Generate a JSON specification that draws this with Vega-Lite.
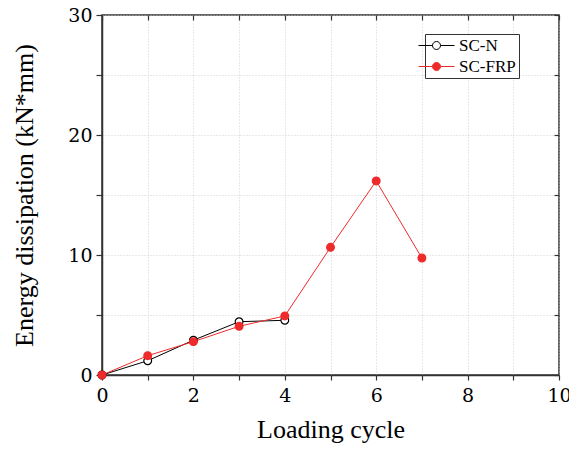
{
  "$schema": "https://vega.github.io/schema/vega-lite/v6.json",
  "autosize": {"type": "none"},
  "width": 457,
  "height": 360,
  "padding": {"left": 102, "top": 15, "right": 10, "bottom": 78},
  "background": "white",
  "data": {"values": [
    {"cycle": 0, "energy": 0, "series": "SC-N"},
    {"cycle": 1, "energy": 1.19, "series": "SC-N"},
    {"cycle": 2, "energy": 2.9, "series": "SC-N"},
    {"cycle": 3, "energy": 4.44, "series": "SC-N"},
    {"cycle": 4, "energy": 4.56, "series": "SC-N"},
    {"cycle": 0, "energy": 0, "series": "SC-FRP"},
    {"cycle": 1, "energy": 1.61, "series": "SC-FRP"},
    {"cycle": 2, "energy": 2.78, "series": "SC-FRP"},
    {"cycle": 3, "energy": 4.06, "series": "SC-FRP"},
    {"cycle": 4, "energy": 4.92, "series": "SC-FRP"},
    {"cycle": 5, "energy": 10.64, "series": "SC-FRP"},
    {"cycle": 6, "energy": 16.17, "series": "SC-FRP"},
    {"cycle": 7, "energy": 9.75, "series": "SC-FRP"}
  ]},
  "config": {
    "font": "Liberation Serif",
    "view": {"stroke": "#333", "strokeWidth": 1.5},
    "axis": {
      "domainColor": "#333", "domainWidth": 1.5, "tickColor": "#333", "tickWidth": 1.2,
      "labelFont": "DejaVu Serif", "titleFont": "Liberation Serif",
      "labelColor": "black", "titleColor": "black", "labelFontSize": 19, "titleFontSize": 26, "titleFontWeight": "normal",
      "gridColor": "#c8c8c8", "gridDash": [1, 2], "gridWidth": 0.8, "labelFlush": false
    },
    "legend": {"labelFont": "Liberation Serif"}
  },
  "resolve": {"axis": {"x": "independent", "y": "independent"}},
  "layer": [
    {
      "mark": {"type": "line", "strokeWidth": 1},
      "encoding": {
        "x": {"field": "cycle", "type": "quantitative", "scale": {"domain": [0, 10], "nice": false, "zero": false},
              "axis": {"values": [0,1,2,3,4,5,6,7,8,9,10], "labelExpr": "datum.value % 2 === 0 ? datum.label : ''", "title": "Loading cycle", "tickSize": 5, "labelPadding": 6, "titlePadding": 11, "grid": false, "labelFlush": false, "labelFont": "DejaVu Serif"}},
        "y": {"field": "energy", "type": "quantitative", "scale": {"domain": [0, 30], "nice": false},
              "axis": {"values": [0,5,10,15,20,25,30], "labelExpr": "datum.value % 10 === 0 ? datum.label : ''", "title": "Energy dissipation (kN*mm)", "tickSize": 6, "labelPadding": 4, "titlePadding": 30, "grid": false, "labelFlush": false, "titleFontSize": 26, "labelFont": "DejaVu Serif"}},
        "color": {"field": "series", "type": "nominal", "scale": {"domain": ["SC-N", "SC-FRP"], "range": ["#000000", "#ee2b2b"]},
                  "legend": {"title": null, "orient": "none", "legendX": 323, "legendY": 19, "labelFontSize": 17, "labelFont": "Liberation Serif", "labelColor": "black", "symbolSize": 64, "symbolStrokeWidth": 1, "labelOffset": 14, "rowPadding": 3, "padding": 3, "strokeColor": "#333", "fillColor": "white", "offset": 0, "symbolType": "M-4.5,0H-1M1,0H4.5M-1,0A1,1 0 1,1 1,0A1,1 0 1,1 -1,0",
                    "encode": {"symbols": {"update": {"fill": {"signal": "datum.value === 'SC-N' ? '#ffffff' : '#ee2b2b'"}, "fillOpacity": {"value": 1}}}}}}
      }
    },
    {
      "mark": {"type": "point", "shape": "circle", "size": 60, "strokeWidth": 1.2, "opacity": 1},
      "encoding": {
        "x": {"field": "cycle", "type": "quantitative",
              "axis": {"orient": "top", "values": [0,1,2,3,4,5,6,7,8,9,10], "labels": false, "title": null, "tickSize": 5, "offset": -5, "grid": true, "domain": false}},
        "y": {"field": "energy", "type": "quantitative",
              "axis": {"orient": "right", "values": [0,5,10,15,20,25,30], "labels": false, "title": null, "tickSize": 5, "offset": -5, "grid": true, "domain": false}},
        "fill": {"field": "series", "type": "nominal", "scale": {"domain": ["SC-N", "SC-FRP"], "range": ["#ffffff", "#ee2b2b"]}, "legend": null},
        "stroke": {"field": "series", "type": "nominal", "scale": {"domain": ["SC-N", "SC-FRP"], "range": ["#000000", "#ee2b2b"]}, "legend": null}
      }
    }
  ]
}
